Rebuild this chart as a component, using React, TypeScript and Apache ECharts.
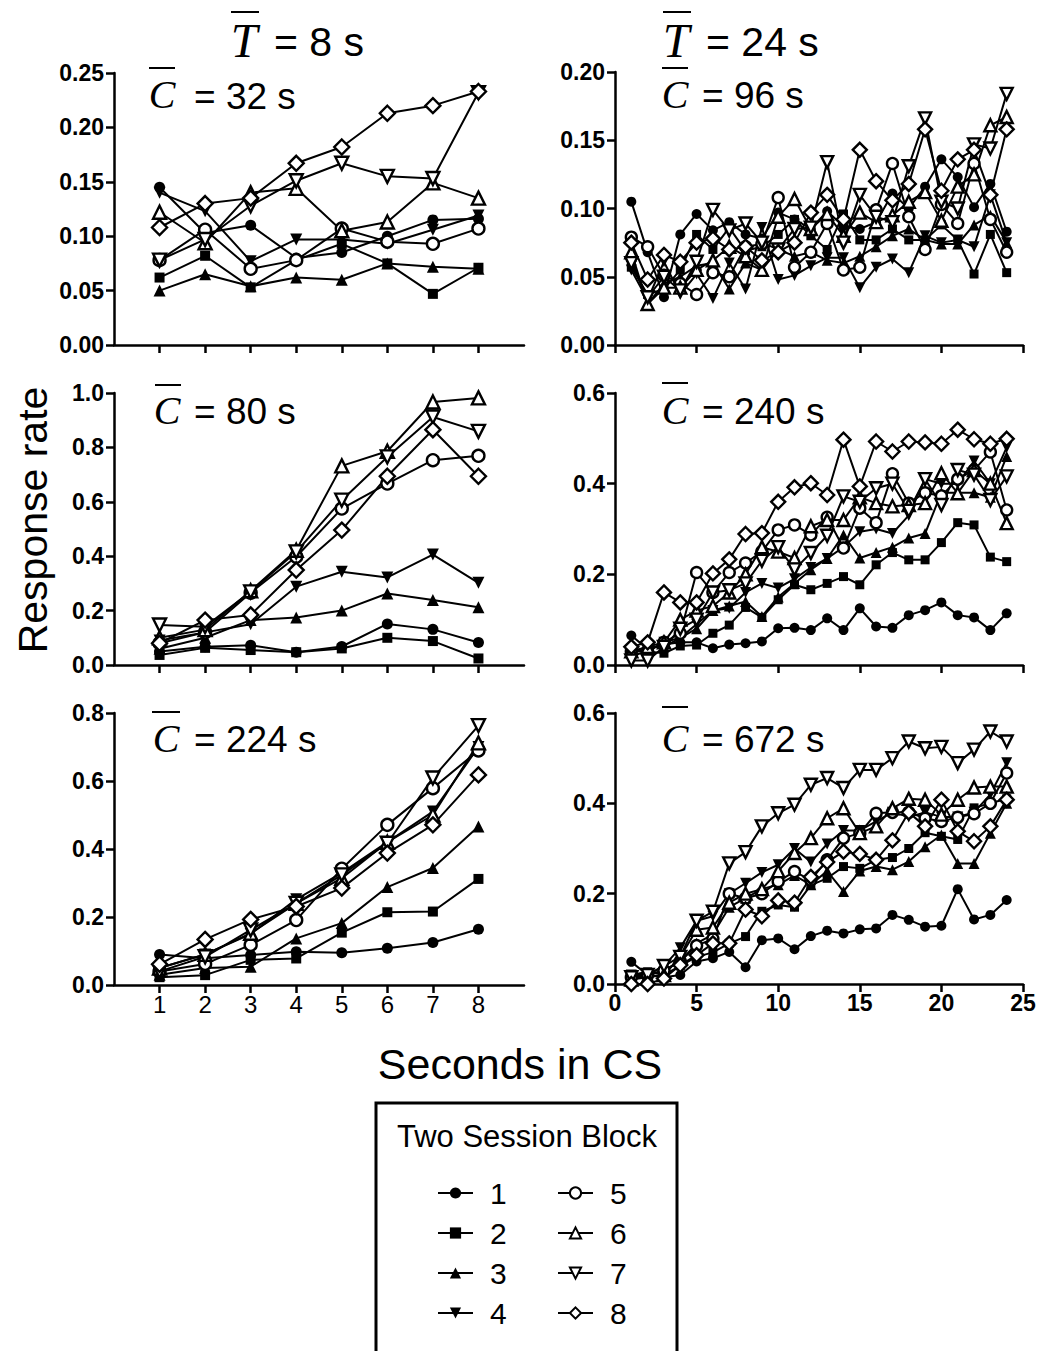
import React, { useEffect, useRef } from "react";
import * as echarts from "echarts";

const SANS = '"Liberation Sans", Arial, sans-serif';
const SERIF = '"Liberation Serif", "Times New Roman", serif';

// ---------- data ----------
const blockNames = ["1", "2", "3", "4", "5", "6", "7", "8"];
const xShort = [1, 2, 3, 4, 5, 6, 7, 8];
const xLong = [1, 2, 3, 4, 5, 6, 7, 8, 9, 10, 11, 12, 13, 14, 15, 16, 17, 18, 19, 20, 21, 22, 23, 24];
const xShortTicks = [1, 2, 3, 4, 5, 6, 7, 8];

// T = 8 s, C = 32 s
const L1_s1 = [0.145, 0.103, 0.110, 0.080, 0.085, 0.100, 0.115, 0.116];
const L1_s2 = [0.062, 0.082, 0.053, 0.078, 0.093, 0.075, 0.047, 0.071];
const L1_s3 = [0.050, 0.065, 0.054, 0.062, 0.060, 0.075, 0.072, 0.070];
const L1_s4 = [0.140, 0.123, 0.077, 0.097, 0.097, 0.093, 0.106, 0.119];
const L1_s5 = [0.078, 0.106, 0.070, 0.078, 0.107, 0.095, 0.093, 0.107];
const L1_s6 = [0.122, 0.094, 0.140, 0.144, 0.105, 0.113, 0.149, 0.135];
const L1_s7 = [0.078, 0.097, 0.128, 0.151, 0.167, 0.155, 0.153, 0.232];
const L1_s8 = [0.108, 0.130, 0.135, 0.167, 0.182, 0.213, 0.220, 0.233];

// T = 8 s, C = 80 s
const L2_s1 = [0.050, 0.067, 0.073, 0.047, 0.068, 0.151, 0.131, 0.083];
const L2_s2 = [0.037, 0.063, 0.055, 0.047, 0.061, 0.100, 0.088, 0.024];
const L2_s3 = [0.060, 0.100, 0.165, 0.175, 0.200, 0.263, 0.239, 0.212];
const L2_s4 = [0.090, 0.120, 0.150, 0.288, 0.343, 0.322, 0.406, 0.302];
const L2_s5 = [0.080, 0.120, 0.266, 0.398, 0.575, 0.667, 0.753, 0.769];
const L2_s6 = [0.100, 0.130, 0.273, 0.422, 0.732, 0.786, 0.967, 0.982];
const L2_s7 = [0.147, 0.141, 0.269, 0.416, 0.606, 0.765, 0.912, 0.859];
const L2_s8 = [0.080, 0.165, 0.184, 0.349, 0.496, 0.694, 0.865, 0.694];

// T = 8 s, C = 224 s
const L3_s1 = [0.090, 0.079, 0.088, 0.098, 0.095, 0.108, 0.125, 0.164];
const L3_s2 = [0.023, 0.029, 0.074, 0.078, 0.154, 0.214, 0.216, 0.312];
const L3_s3 = [0.030, 0.050, 0.054, 0.137, 0.182, 0.288, 0.344, 0.466];
const L3_s4 = [0.050, 0.090, 0.150, 0.252, 0.330, 0.420, 0.510, 0.700];
const L3_s5 = [0.040, 0.062, 0.118, 0.191, 0.342, 0.471, 0.579, 0.690];
const L3_s6 = [0.050, 0.090, 0.152, 0.240, 0.314, 0.420, 0.500, 0.712];
const L3_s7 = [0.040, 0.083, 0.162, 0.240, 0.324, 0.417, 0.609, 0.763];
const L3_s8 = [0.061, 0.134, 0.193, 0.231, 0.285, 0.388, 0.471, 0.618];

// T = 24 s, C = 96 s
const R1_s1 = [0.105, 0.068, 0.035, 0.081, 0.096, 0.084, 0.090, 0.081, 0.078, 0.097, 0.092, 0.085, 0.098, 0.087, 0.085, 0.090, 0.111, 0.100, 0.116, 0.136, 0.123, 0.101, 0.118, 0.083];
const R1_s2 = [0.057, 0.037, 0.041, 0.055, 0.081, 0.070, 0.086, 0.069, 0.072, 0.081, 0.092, 0.080, 0.070, 0.096, 0.077, 0.077, 0.085, 0.077, 0.077, 0.088, 0.077, 0.052, 0.081, 0.053];
const R1_s3 = [0.065, 0.030, 0.045, 0.050, 0.058, 0.060, 0.041, 0.060, 0.055, 0.070, 0.065, 0.068, 0.062, 0.060, 0.065, 0.072, 0.080, 0.085, 0.077, 0.074, 0.074, 0.088, 0.095, 0.075];
const R1_s4 = [0.055, 0.033, 0.061, 0.037, 0.052, 0.034, 0.060, 0.041, 0.086, 0.048, 0.051, 0.058, 0.064, 0.064, 0.042, 0.057, 0.063, 0.053, 0.080, 0.075, 0.077, 0.072, 0.110, 0.075];
const R1_s5 = [0.079, 0.072, 0.051, 0.045, 0.037, 0.053, 0.050, 0.072, 0.074, 0.108, 0.057, 0.068, 0.089, 0.055, 0.057, 0.099, 0.133, 0.094, 0.070, 0.103, 0.089, 0.133, 0.092, 0.068];
const R1_s6 = [0.068, 0.030, 0.042, 0.042, 0.055, 0.062, 0.072, 0.065, 0.055, 0.094, 0.107, 0.085, 0.096, 0.080, 0.097, 0.090, 0.095, 0.105, 0.112, 0.091, 0.116, 0.125, 0.161, 0.167];
const R1_s7 = [0.060, 0.035, 0.050, 0.040, 0.061, 0.099, 0.084, 0.089, 0.075, 0.070, 0.085, 0.086, 0.134, 0.075, 0.110, 0.094, 0.090, 0.131, 0.166, 0.105, 0.100, 0.147, 0.144, 0.184];
const R1_s8 = [0.075, 0.048, 0.066, 0.061, 0.075, 0.078, 0.070, 0.072, 0.062, 0.068, 0.075, 0.097, 0.110, 0.092, 0.143, 0.120, 0.106, 0.118, 0.158, 0.113, 0.136, 0.143, 0.110, 0.158];

// T = 24 s, C = 240 s
const R2_s1 = [0.065, 0.035, 0.045, 0.050, 0.050, 0.037, 0.045, 0.048, 0.052, 0.081, 0.082, 0.077, 0.103, 0.077, 0.125, 0.085, 0.082, 0.110, 0.121, 0.138, 0.110, 0.105, 0.077, 0.114];
const R2_s2 = [0.035, 0.030, 0.026, 0.042, 0.044, 0.070, 0.088, 0.127, 0.105, 0.144, 0.177, 0.166, 0.180, 0.195, 0.177, 0.221, 0.248, 0.232, 0.232, 0.270, 0.314, 0.309, 0.238, 0.228];
const R2_s3 = [0.030, 0.040, 0.040, 0.060, 0.080, 0.120, 0.130, 0.140, 0.107, 0.150, 0.180, 0.210, 0.235, 0.287, 0.236, 0.248, 0.260, 0.280, 0.290, 0.380, 0.380, 0.380, 0.370, 0.460];
const R2_s4 = [0.020, 0.030, 0.050, 0.060, 0.090, 0.120, 0.125, 0.160, 0.180, 0.170, 0.190, 0.215, 0.235, 0.260, 0.294, 0.300, 0.290, 0.330, 0.410, 0.400, 0.400, 0.450, 0.400, 0.480];
const R2_s5 = [0.030, 0.030, 0.050, 0.070, 0.204, 0.160, 0.204, 0.225, 0.250, 0.298, 0.309, 0.287, 0.326, 0.258, 0.346, 0.314, 0.422, 0.357, 0.380, 0.373, 0.410, 0.430, 0.470, 0.342];
const R2_s6 = [0.030, 0.040, 0.050, 0.100, 0.120, 0.130, 0.160, 0.200, 0.260, 0.250, 0.236, 0.306, 0.320, 0.320, 0.370, 0.357, 0.350, 0.353, 0.357, 0.423, 0.379, 0.430, 0.400, 0.313];
const R2_s7 = [0.010, 0.010, 0.040, 0.080, 0.100, 0.160, 0.165, 0.180, 0.230, 0.260, 0.211, 0.247, 0.285, 0.372, 0.360, 0.390, 0.400, 0.340, 0.410, 0.353, 0.430, 0.420, 0.364, 0.416];
const R2_s8 = [0.040, 0.050, 0.160, 0.138, 0.138, 0.202, 0.233, 0.289, 0.291, 0.360, 0.392, 0.401, 0.375, 0.497, 0.394, 0.493, 0.471, 0.493, 0.491, 0.488, 0.519, 0.498, 0.488, 0.499];

// T = 24 s, C = 672 s
const R3_s1 = [0.049, 0.020, 0.015, 0.020, 0.050, 0.057, 0.071, 0.037, 0.097, 0.101, 0.077, 0.106, 0.118, 0.112, 0.121, 0.123, 0.153, 0.142, 0.127, 0.129, 0.210, 0.143, 0.153, 0.186];
const R3_s2 = [0.020, 0.027, 0.020, 0.040, 0.060, 0.070, 0.090, 0.105, 0.161, 0.175, 0.170, 0.219, 0.234, 0.260, 0.256, 0.275, 0.280, 0.300, 0.335, 0.327, 0.320, 0.390, 0.400, 0.410];
const R3_s3 = [0.010, 0.020, 0.030, 0.050, 0.090, 0.110, 0.170, 0.190, 0.210, 0.220, 0.240, 0.220, 0.250, 0.205, 0.250, 0.260, 0.253, 0.271, 0.304, 0.330, 0.267, 0.267, 0.334, 0.400];
const R3_s4 = [0.020, 0.020, 0.040, 0.080, 0.140, 0.150, 0.200, 0.223, 0.247, 0.264, 0.300, 0.270, 0.310, 0.340, 0.340, 0.360, 0.380, 0.370, 0.380, 0.370, 0.370, 0.380, 0.420, 0.490];
const R3_s5 = [0.015, 0.020, 0.030, 0.050, 0.085, 0.100, 0.200, 0.190, 0.200, 0.227, 0.249, 0.230, 0.275, 0.323, 0.334, 0.378, 0.380, 0.380, 0.367, 0.360, 0.369, 0.377, 0.400, 0.467];
const R3_s6 = [0.010, 0.015, 0.020, 0.060, 0.120, 0.125, 0.180, 0.200, 0.210, 0.250, 0.290, 0.323, 0.367, 0.389, 0.334, 0.349, 0.389, 0.410, 0.408, 0.375, 0.408, 0.435, 0.437, 0.437];
const R3_s7 = [0.015, 0.020, 0.040, 0.060, 0.140, 0.160, 0.267, 0.292, 0.349, 0.378, 0.397, 0.441, 0.456, 0.434, 0.474, 0.474, 0.500, 0.537, 0.522, 0.525, 0.489, 0.519, 0.559, 0.537];
const R3_s8 = [0.000, 0.000, 0.012, 0.042, 0.064, 0.090, 0.090, 0.165, 0.150, 0.185, 0.180, 0.237, 0.270, 0.293, 0.288, 0.275, 0.318, 0.380, 0.349, 0.408, 0.338, 0.316, 0.349, 0.408];

const leftYTicks1 = ["0.00", "0.05", "0.10", "0.15", "0.20", "0.25"];
const rightXTicks = ["0", "5", "10", "15", "20", "25"];

// ---------- styling / layout ----------
const symbolDefs = [
  { symbol: "circle", rotate: 0, filled: true, size: 11 },
  { symbol: "rect", rotate: 0, filled: true, size: 10 },
  { symbol: "triangle", rotate: 0, filled: true, size: 12 },
  { symbol: "triangle", rotate: 180, filled: true, size: 12 },
  { symbol: "circle", rotate: 0, filled: false, size: 12 },
  { symbol: "triangle", rotate: 0, filled: false, size: 13 },
  { symbol: "triangle", rotate: 180, filled: false, size: 13 },
  { symbol: "diamond", rotate: 0, filled: false, size: 15 },
];

const panels = [
  { left: 114, top: 73, width: 410, height: 272, side: "L", yMax: 0.25, yInt: 0.05, dec: 2, xLabels: false, vals: [L1_s1, L1_s2, L1_s3, L1_s4, L1_s5, L1_s6, L1_s7, L1_s8] },
  { left: 114, top: 393, width: 410, height: 272, side: "L", yMax: 1.0, yInt: 0.2, dec: 1, xLabels: false, vals: [L2_s1, L2_s2, L2_s3, L2_s4, L2_s5, L2_s6, L2_s7, L2_s8] },
  { left: 114, top: 713, width: 410, height: 272, side: "L", yMax: 0.8, yInt: 0.2, dec: 1, xLabels: true, vals: [L3_s1, L3_s2, L3_s3, L3_s4, L3_s5, L3_s6, L3_s7, L3_s8] },
  { left: 615, top: 72, width: 408, height: 273, side: "R", yMax: 0.2, yInt: 0.05, dec: 2, xLabels: false, vals: [R1_s1, R1_s2, R1_s3, R1_s4, R1_s5, R1_s6, R1_s7, R1_s8] },
  { left: 615, top: 393, width: 408, height: 272, side: "R", yMax: 0.6, yInt: 0.2, dec: 1, xLabels: false, vals: [R2_s1, R2_s2, R2_s3, R2_s4, R2_s5, R2_s6, R2_s7, R2_s8] },
  { left: 615, top: 713, width: 408, height: 271, side: "R", yMax: 0.6, yInt: 0.2, dec: 1, xLabels: true, vals: [R3_s1, R3_s2, R3_s3, R3_s4, R3_s5, R3_s6, R3_s7, R3_s8] },
];

const panelLabels = [
  { cx: 162, cy: 94, ol: [149, 175, 68], text: "= 32 s", tx: 194, ty: 96 },
  { cx: 167, cy: 410, ol: [155, 181, 385], text: "= 80 s", tx: 194, ty: 411 },
  { cx: 166, cy: 738, ol: [152, 180, 712], text: "= 224 s", tx: 194, ty: 739 },
  { cx: 675, cy: 94, ol: [662, 688, 68], text: "= 96 s", tx: 702, ty: 95 },
  { cx: 675, cy: 410, ol: [662, 688, 383], text: "= 240 s", tx: 702, ty: 411 },
  { cx: 675, cy: 738, ol: [662, 688, 707], text: "= 672 s", tx: 702, ty: 739 },
];

const titles = [
  { tx: 244, text: "= 8 s", ex: 274 },
  { tx: 676, text: "= 24 s", ex: 706 },
];

function buildOption() {
  const grid: any[] = [];
  const xAxis: any[] = [];
  const yAxis: any[] = [];
  const series: any[] = [];
  const axisLine = { show: true, onZero: false, lineStyle: { color: "#000", width: 2.5 } };
  const axisTickBase = { show: true, length: 8, inside: false, lineStyle: { color: "#000", width: 2.5 } };

  panels.forEach((p, i) => {
    grid.push({ left: p.left, top: p.top, width: p.width, height: p.height, containLabel: false });
    if (p.side === "L") {
      xAxis.push({
        gridIndex: i, type: "value", min: 0, max: 9, interval: 1,
        axisLine,
        axisTick: { ...axisTickBase, customValues: xShortTicks },
        axisLabel: { show: p.xLabels, customValues: xShortTicks, fontSize: 24, fontFamily: SANS, color: "#000", margin: 7 },
        splitLine: { show: false },
      });
    } else {
      xAxis.push({
        gridIndex: i, type: "value", min: 0, max: 25, interval: 5,
        axisLine,
        axisTick: axisTickBase,
        axisLabel: { show: p.xLabels, fontSize: 23, fontWeight: "bold", fontFamily: SANS, color: "#000", margin: 7,
          formatter: (v: number) => rightXTicks[Math.round(v / 5)] ?? String(v) },
        splitLine: { show: false },
      });
    }
    yAxis.push({
      gridIndex: i, type: "value", min: 0, max: p.yMax, interval: p.yInt,
      axisLine,
      axisTick: axisTickBase,
      axisLabel: { fontSize: 23, fontWeight: "bold", fontFamily: SANS, color: "#000", margin: 10,
        formatter: (v: number) => (p.dec === 2 ? leftYTicks1[Math.round(v / 0.05)] ?? v.toFixed(2) : v.toFixed(1)) },
      splitLine: { show: false },
    });
    const xs = p.side === "L" ? xShort : xLong;
    p.vals.forEach((vals, k) => {
      const d = symbolDefs[k];
      const sz = p.side === "R" ? d.size - 1 : d.size;
      series.push({
        name: blockNames[k],
        type: "line",
        xAxisIndex: i,
        yAxisIndex: i,
        data: xs.map((x, j) => [x, vals[j]]),
        symbol: d.symbol,
        symbolSize: sz,
        symbolRotate: d.rotate,
        showAllSymbol: true,
        lineStyle: { color: "#000", width: 2 },
        itemStyle: {
          color: d.filled ? "#000" : "#fff",
          borderColor: "#000",
          borderWidth: d.filled ? 0 : 2.4,
        },
        emphasis: { disabled: true },
        z: 2,
      });
    });
  });

  const legendBase = {
    orient: "vertical",
    itemWidth: 35,
    itemHeight: 14,
    itemGap: 10,
    selectedMode: false,
    textStyle: { fontSize: 30, fontFamily: SANS, color: "#000", padding: [0, 0, 0, 12] },
  };

  const graphic: any[] = [];
  // column titles
  titles.forEach((t) => {
    graphic.push({ type: "text", x: t.tx, y: 40, style: { text: "T", fontSize: 48, fontFamily: SERIF, fontStyle: "italic", fill: "#000", textAlign: "center", textVerticalAlign: "middle" } });
    graphic.push({ type: "line", shape: { x1: t.tx - 13, y1: 12, x2: t.tx + 15, y2: 12 }, style: { stroke: "#000", lineWidth: 2 } });
    graphic.push({ type: "text", x: t.ex, y: 42, style: { text: t.text, fontSize: 41, fontFamily: SANS, fill: "#000", textAlign: "left", textVerticalAlign: "middle" } });
  });
  // panel labels
  panelLabels.forEach((l) => {
    graphic.push({ type: "text", x: l.cx, y: l.cy, style: { text: "C", fontSize: 40, fontFamily: SERIF, fontStyle: "italic", fill: "#000", textAlign: "center", textVerticalAlign: "middle" } });
    graphic.push({ type: "line", shape: { x1: l.ol[0], y1: l.ol[2], x2: l.ol[1], y2: l.ol[2] }, style: { stroke: "#000", lineWidth: 2 } });
    graphic.push({ type: "text", x: l.tx, y: l.ty, style: { text: l.text, fontSize: 37, fontFamily: SANS, fill: "#000", textAlign: "left", textVerticalAlign: "middle" } });
  });
  // axis titles
  graphic.push({ type: "text", x: 33, y: 520, rotation: Math.PI / 2, style: { text: "Response rate", fontSize: 41, fontFamily: SANS, fill: "#000", textAlign: "center", textVerticalAlign: "middle" } });
  graphic.push({ type: "text", x: 520, y: 1064, style: { text: "Seconds in CS", fontSize: 43, fontFamily: SANS, fill: "#000", textAlign: "center", textVerticalAlign: "middle" } });
  // legend box
  graphic.push({ type: "rect", shape: { x: 376, y: 1103, width: 301, height: 260 }, style: { fill: "none", stroke: "#000", lineWidth: 3 } });
  graphic.push({ type: "text", x: 527, y: 1136, style: { text: "Two Session Block", fontSize: 31, fontFamily: SANS, fill: "#000", textAlign: "center", textVerticalAlign: "middle" } });

  return {
    animation: false,
    backgroundColor: "#fff",
    grid,
    xAxis,
    yAxis,
    series,
    legend: [
      { ...legendBase, data: ["1", "2", "3", "4"], left: 432, top: 1173 },
      { ...legendBase, data: ["5", "6", "7", "8"], left: 552, top: 1173 },
    ],
    graphic,
  };
}

export default function App() {
  const ref = useRef<HTMLDivElement>(null);
  useEffect(() => {
    if (!ref.current) return;
    const chart = echarts.init(ref.current, undefined, { renderer: "svg" });
    chart.setOption(buildOption() as any);
    return () => chart.dispose();
  }, []);
  return (
    <div
      ref={ref}
      style={{ position: "absolute", left: 0, top: 0, width: 1047, height: 1351, background: "#fff" }}
    />
  );
}
